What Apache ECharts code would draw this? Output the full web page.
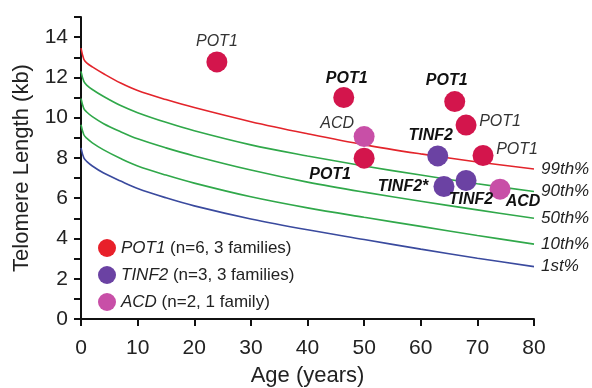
<!DOCTYPE html>
<html>
<head>
    <meta charset="utf-8">
    <title>Telomere Length</title>
    <script src="https://cdn.jsdelivr.net/npm/echarts@6/dist/echarts.min.js"></script>
    <style>
        html, body { margin: 0; padding: 0; background: #fff; }
    </style>
</head>
<body>
    <div id="chart" style="width: 592px; height: 388px;"></div>
    <script>
        // percentile curves (age in years, length in kb)
        const ages = [0, 0.5, 1, 2, 4, 7, 10, 15, 20, 30, 40, 50, 60, 70, 80];
        const p99 = [13.45, 12.9, 12.72, 12.52, 12.18, 11.72, 11.35, 10.9, 10.5, 9.8, 9.2, 8.65, 8.2, 7.8, 7.45];
        const p90 = [12.3, 11.8, 11.62, 11.4, 11.05, 10.6, 10.25, 9.77, 9.35, 8.65, 8.1, 7.6, 7.15, 6.72, 6.33];
        const p50 = [10.95, 10.45, 10.28, 10.05, 9.7, 9.3, 8.95, 8.5, 8.1, 7.4, 6.8, 6.3, 5.85, 5.42, 5.0];
        const p10 = [9.65, 9.15, 8.98, 8.75, 8.4, 7.97, 7.6, 7.15, 6.75, 6.07, 5.52, 5.05, 4.6, 4.15, 3.72];
        const p1 = [8.5, 8.0, 7.83, 7.6, 7.25, 6.85, 6.48, 6.02, 5.62, 4.97, 4.43, 3.95, 3.47, 3.02, 2.6];
        const curveNames = ['99th%', '90th%', '50th%', '10th%', '1st%'];

        // patients
        const pot1Age = [24, 46.4, 50, 66, 68, 71];
        const pot1Len = [12.77, 11.0, 7.99, 10.8, 9.63, 8.12];
        const pot1Tag = ['POT1', 'POT1', 'POT1', 'POT1', 'POT1', 'POT1'];
        const tinf2Age = [63, 64.1, 68];
        const tinf2Len = [8.1, 6.58, 6.88];
        const tinf2Tag = ['TINF2', 'TINF2*', 'TINF2'];
        const acdAge = [50, 74];
        const acdLen = [9.06, 6.45];
        const acdTag = ['ACD', 'ACD'];

        const genes = ['POT1', 'TINF2', 'ACD'];
        const geneNotes = ['(n=6, 3 families)', '(n=3, 3 families)', '(n=2, 1 family)'];

        // label placement (offset from dot centre, bold or not)
        const pot1Lab = [[0, -20, 0], [3, -19, 1], [-34, 16, 1], [-8, -21, 1], [34, -4, 0], [34, -6, 0]];
        const tinf2Lab = [[-7, -20, 1], [-41, 0, 1], [5, 19, 1]];
        const acdLab = [[-27, -13, 0], [23, 12, 1]];

        const font = 'Liberation Sans, Arial, sans-serif';
        const curveColors = ['#e3242b', '#30a84a', '#30a84a', '#30a84a', '#3a4a9e'];
        const dotColors = ['#d3154c', '#6b42a3', '#c84fa7'];
        const legendColors = ['#e8202a', '#6b42a3', '#c84fa7'];

        function pts(xs, ys, tags, lab) {
            return xs.map(function (x, i) {
                const l = lab[i];
                return {
                    value: [x, ys[i]],
                    label: {
                        show: true,
                        formatter: tags[i],
                        position: 'inside',
                        offset: [l[0], l[1]],
                        fontFamily: font,
                        fontSize: 16,
                        fontStyle: 'italic',
                        fontWeight: l[2] ? 'bold' : 'normal',
                        color: l[2] ? '#111' : '#333'
                    }
                };
            });
        }

        const curves = [p99, p90, p50, p10, p1];
        const series = curves.map(function (c, k) {
            return {
                name: curveNames[k],
                type: 'line',
                data: ages.map(function (a, i) { return [a, c[i]]; }),
                smooth: 0.35,
                symbol: 'none',
                silent: true,
                lineStyle: { color: curveColors[k], width: 1.6 },
                endLabel: {
                    show: true,
                    formatter: curveNames[k],
                    distance: 7,
                    fontFamily: font,
                    fontSize: 17,
                    fontStyle: 'italic',
                    color: '#222'
                },
                z: 2
            };
        });

        const dotSets = [
            pts(pot1Age, pot1Len, pot1Tag, pot1Lab),
            pts(tinf2Age, tinf2Len, tinf2Tag, tinf2Lab),
            pts(acdAge, acdLen, acdTag, acdLab)
        ];
        genes.forEach(function (g, k) {
            series.push({
                name: g,
                type: 'scatter',
                data: dotSets[k],
                symbolSize: 21,
                itemStyle: { color: dotColors[k], opacity: 1 },
                z: 5
            });
        });

        const option = {
            backgroundColor: '#fff',
            animation: false,
            grid: { left: 81, right: 58, top: 17, bottom: 69, outerBoundsMode: 'none', containLabel: false },
            legend: {
                data: genes.map(function (g, k) {
                    return { name: g, icon: 'circle', itemStyle: { color: legendColors[k] } };
                }),
                orient: 'vertical',
                left: 93,
                top: 234,
                itemWidth: 18,
                itemHeight: 18,
                itemGap: 9,
                selectedMode: false,
                formatter: function (name) {
                    return '{g|' + name + '} ' + geneNotes[genes.indexOf(name)];
                },
                textStyle: {
                    fontFamily: font,
                    fontSize: 17,
                    color: '#222',
                    rich: {
                        g: { fontFamily: font, fontSize: 17, fontStyle: 'italic', color: '#222' }
                    }
                }
            },
            xAxis: {
                type: 'value',
                min: 0,
                max: 80,
                interval: 10,
                name: 'Age (years)',
                nameLocation: 'middle',
                nameGap: 46,
                nameTextStyle: { fontFamily: font, fontSize: 22, color: '#222' },
                splitLine: { show: false },
                axisLine: { show: true, lineStyle: { color: '#111', width: 2 } },
                axisTick: { show: true, length: 7, lineStyle: { color: '#111', width: 2 } },
                axisLabel: { fontFamily: font, fontSize: 21, color: '#222', margin: 19 }
            },
            yAxis: {
                type: 'value',
                min: 0,
                max: 15,
                interval: 1,
                name: 'Telomere Length (kb)',
                nameLocation: 'middle',
                nameGap: 48,
                nameTextStyle: { fontFamily: font, fontSize: 22, color: '#222' },
                splitLine: { show: false },
                axisLine: { show: true, lineStyle: { color: '#111', width: 2 } },
                axisTick: { show: true, length: 7, lineStyle: { color: '#111', width: 2 } },
                axisLabel: {
                    fontFamily: font,
                    fontSize: 21,
                    color: '#222',
                    margin: 13,
                    formatter: function (v) { return v % 2 === 0 && v < 15 ? String(v) : ''; }
                }
            },
            series: series
        };

        const myChart = echarts.init(document.getElementById('chart'));
        myChart.setOption(option);
    </script>
</body>
</html>
